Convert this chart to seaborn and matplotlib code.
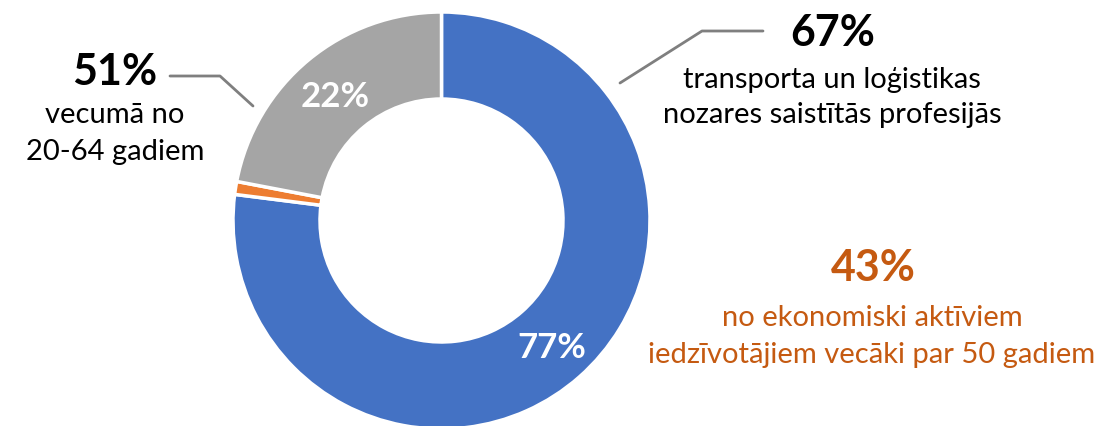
import matplotlib
matplotlib.use("Agg")
import matplotlib.pyplot as plt
import seaborn as sns

sns.set_theme(style="white")
plt.rcParams['font.family'] = ['Lato', 'DejaVu Sans']

# data
categories = ["Profesijas", "Citi", "Vecumā 20-64"]
values = [77, 1, 22]
colors = ["#4472C4", "#ED7D31", "#A5A5A5"]
inner_labels = ["77%", "", "22%"]

W, H = 1104, 427
fig = plt.figure(figsize=(W / 100, H / 100), dpi=100)
ax = fig.add_axes([0, 0, 1, 1])

cx, cy, R = 441.5, H - 221.5, 208.5
wedges, _ = ax.pie(values, colors=colors, startangle=90, counterclock=False,
                   center=(cx, cy), radius=R, frame=True,
                   wedgeprops=dict(width=87, edgecolor="white", linewidth=2.5))
ax.set_xlim(0, W)
ax.set_ylim(0, H)
ax.set_aspect("equal")
ax.axis("off")

BIG, BODY, INNER = 31, 21, 25

# inside labels
ax.text(552, H - 348, inner_labels[0], color="white", fontsize=INNER, fontweight="bold", ha="center", va="center")
ax.text(335, H - 97, inner_labels[2], color="white", fontsize=INNER, fontweight="bold", ha="center", va="center")

lc = "#7F7F7F"
# right leader
ax.plot([620, 702, 763], [H - 84, H - 32, H - 32], color=lc, lw=2)
ax.text(833, H - 33, "67%", fontsize=BIG, fontweight="bold", color="black", ha="center", va="center")
ax.text(832, H - 80, "transporta un loģistikas", fontsize=BODY, color="black", ha="center", va="center")
ax.text(832, H - 115, "nozares saistītās profesijās", fontsize=BODY, color="black", ha="center", va="center")

# left leader
ax.plot([253, 220, 170], [H - 107, H - 77, H - 77], color=lc, lw=2)
ax.text(115, H - 72, "51%", fontsize=BIG, fontweight="bold", color="black", ha="center", va="center")
ax.text(115, H - 115, "vecumā no", fontsize=BODY, color="black", ha="center", va="center")
ax.text(115, H - 152, "20-64 gadiem", fontsize=BODY, color="black", ha="center", va="center")

# orange note
oc = "#C55A11"
ax.text(873, H - 268, "43%", fontsize=BIG, fontweight="bold", color=oc, ha="center", va="center")
ax.text(872, H - 318, "no ekonomiski aktīviem", fontsize=BODY, color=oc, ha="center", va="center")
ax.text(872, H - 355, "iedzīvotājiem vecāki par 50 gadiem", fontsize=BODY, color=oc, ha="center", va="center")

fig.savefig("out.png", dpi=100)
